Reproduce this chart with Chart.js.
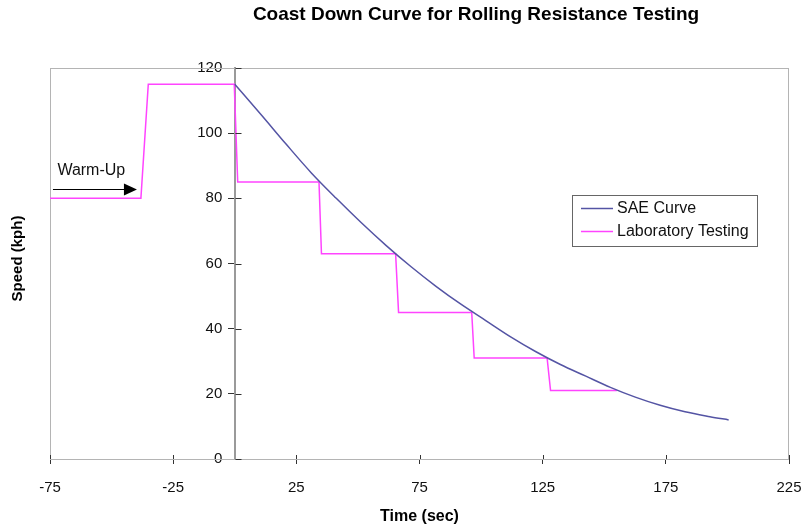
<!DOCTYPE html>
<html>
<head>
<meta charset="utf-8">
<script src="https://cdn.jsdelivr.net/npm/chart.js@4/dist/chart.umd.min.js"></script>
<style>
body{margin:0;background:#fff;}
#grafico{display:block;}
</style>
</head>
<body>
<canvas id="grafico" width="803" height="526"></canvas>
<script>
//datos
const titulo='Coast Down Curve for Rolling Resistance Testing';
const tituloX='Time (sec)';
const tituloY='Speed (kph)';
const nombresSeries=['SAE Curve','Laboratory Testing'];

//curva SAE (tiempo en s, velocidad en kph)
const saeTiempo=[0,10.9,21,31.1,41.2,51.4,61.5,71.6,81.7,91.8,101.9,112,122.1,132.2,142.3,152.5,162.6,172.7,182.8,192.9,200.5];
const saeVelocidad=[115,105.5,96.5,87.8,80,72.5,65.5,59,53,47.5,42.5,37.5,33,29,25.5,22,19,16.5,14.5,13,12];

//prueba de laboratorio (escalones)
const labTiempo=[-75,-38.1,-35.1,-0.2,1.2,34.2,35.2,65.3,66.5,96.2,97.2,126.8,128.2,155.1];
const labVelocidad=[80,80,115,115,85,85,63,63,45,45,31,31,21,21];

//ejes
const xMin=-75,xMax=225,xPaso=50;
const yMin=0,yMax=120,yPaso=20;

const fuente='"Liberation Sans", Arial, sans-serif';
const colorSae='#5454a4';
const colorLab='#ff44ff';

function aPuntos(xs,ys)
{
    return xs.map((x,i)=>({x:x,y:ys[i]}));
}

//dibuja todo lo que chart.js no pone solo: marco, titulos, leyenda, flecha
const extras={
    id:'extras',
    beforeDatasetsDraw(chart)
    {
        const {ctx,chartArea:a}=chart;
        ctx.save();
        ctx.strokeStyle='#b4b4b4';
        ctx.lineWidth=1;
        ctx.strokeRect(a.left+0.5,a.top+0.5,a.right-a.left-1,a.bottom-a.top);
        ctx.restore();
    },
    afterDraw(chart)
    {
        const {ctx,chartArea:a,scales}=chart;
        const sx=scales.x,sy=scales.y;
        ctx.save();

        //marcas que cruzan el eje
        ctx.strokeStyle='#333';
        ctx.lineWidth=1;
        const x0=Math.round(sx.getPixelForValue(0))+0.5;
        sy.ticks.forEach(t=>
        {
            const py=Math.round(sy.getPixelForValue(t.value))+0.5;
            ctx.beginPath();ctx.moveTo(x0,py);ctx.lineTo(x0+6,py);ctx.stroke();
        });
        sx.ticks.forEach(t=>
        {
            const px=Math.round(sx.getPixelForValue(t.value))+0.5;
            ctx.beginPath();ctx.moveTo(px,a.bottom);ctx.lineTo(px,a.bottom-4);ctx.stroke();
        });

        //titulo
        ctx.fillStyle='#000';
        ctx.font='bold 19px '+fuente;
        ctx.textAlign='center';
        ctx.textBaseline='middle';
        ctx.fillText(titulo,476,15);

        //titulo eje y
        ctx.save();
        ctx.translate(18,(a.top+a.bottom)/2-5);
        ctx.rotate(-Math.PI/2);
        ctx.font='bold 15px '+fuente;
        ctx.fillText(tituloY,0,0);
        ctx.restore();

        //warm-up
        ctx.font='16px '+fuente;
        ctx.textAlign='left';
        ctx.fillStyle='#111';
        ctx.fillText('Warm-Up',sx.getPixelForValue(-72),sy.getPixelForValue(88.5));
        const ay=Math.round(sy.getPixelForValue(83))+0.5;
        const ax1=sx.getPixelForValue(-73.8),ax2=sx.getPixelForValue(-39.7);
        ctx.strokeStyle='#000';
        ctx.lineWidth=1;
        ctx.beginPath();ctx.moveTo(ax1,ay);ctx.lineTo(ax2-10,ay);ctx.stroke();
        ctx.fillStyle='#000';
        ctx.beginPath();ctx.moveTo(ax2,ay);ctx.lineTo(ax2-13,ay-6);ctx.lineTo(ax2-13,ay+6);ctx.closePath();ctx.fill();

        //leyenda
        const lx=a.right-217,ly=a.top+127;
        ctx.strokeStyle='#666';
        ctx.lineWidth=1;
        ctx.strokeRect(lx+0.5,ly+0.5,185,51);
        const colores=[colorSae,colorLab];
        nombresSeries.forEach((n,i)=>
        {
            const yy=ly+13+i*23;
            ctx.strokeStyle=colores[i];
            ctx.lineWidth=1.5;
            ctx.beginPath();ctx.moveTo(lx+9,yy+0.5);ctx.lineTo(lx+41,yy+0.5);ctx.stroke();
            ctx.fillStyle='#111';
            ctx.font='16px '+fuente;
            ctx.textBaseline='middle';
            ctx.fillText(n,lx+45,yy+1);
        });

        ctx.restore();
    }
};

new Chart(document.getElementById('grafico'),{
    type:'line',
    data:{
        datasets:[
            {
                label:nombresSeries[0],
                data:aPuntos(saeTiempo,saeVelocidad),
                borderColor:colorSae,
                borderWidth:1.5,
                pointRadius:0,
                cubicInterpolationMode:'monotone',
                fill:false
            },
            {
                label:nombresSeries[1],
                data:aPuntos(labTiempo,labVelocidad),
                borderColor:colorLab,
                borderWidth:1.5,
                pointRadius:0,
                tension:0,
                fill:false
            }
        ]
    },
    options:{
        responsive:false,
        animation:false,
        layout:{padding:{top:68,left:50,right:14,bottom:0}},
        plugins:{
            legend:{display:false},
            title:{display:false},
            tooltip:{enabled:false}
        },
        scales:{
            x:{
                type:'linear',
                position:'bottom',
                min:xMin,max:xMax,
                grid:{drawOnChartArea:false,tickLength:5,color:'#333'},
                border:{display:true,color:'#333',width:1},
                ticks:{
                    stepSize:xPaso,
                    padding:15,
                    color:'#111',
                    font:{family:fuente,size:15}
                },
                title:{
                    display:true,
                    text:tituloX,
                    color:'#000',
                    font:{family:fuente,size:16,weight:'bold'},
                    padding:{top:0,bottom:0}
                },
                afterFit:function(escala)
                {
                    escala.height=67;
                    escala.paddingLeft=0;
                    escala.paddingRight=0;
                }
            },
            y:{
                type:'linear',
                position:{x:0},
                min:yMin,max:yMax,
                grid:{drawOnChartArea:false,tickLength:6,color:'#333'},
                border:{display:true,color:'#9a9a9a',width:2},
                ticks:{
                    stepSize:yPaso,
                    color:'#111',
                    font:{family:fuente,size:15},
                    //el eje esta en x=0 y chart.js no separa las etiquetas, se dejan espacios
                    callback:function(v){return v+'   ';}
                }
            }
        }
    },
    plugins:[extras]
});
</script>
</body>
</html>
